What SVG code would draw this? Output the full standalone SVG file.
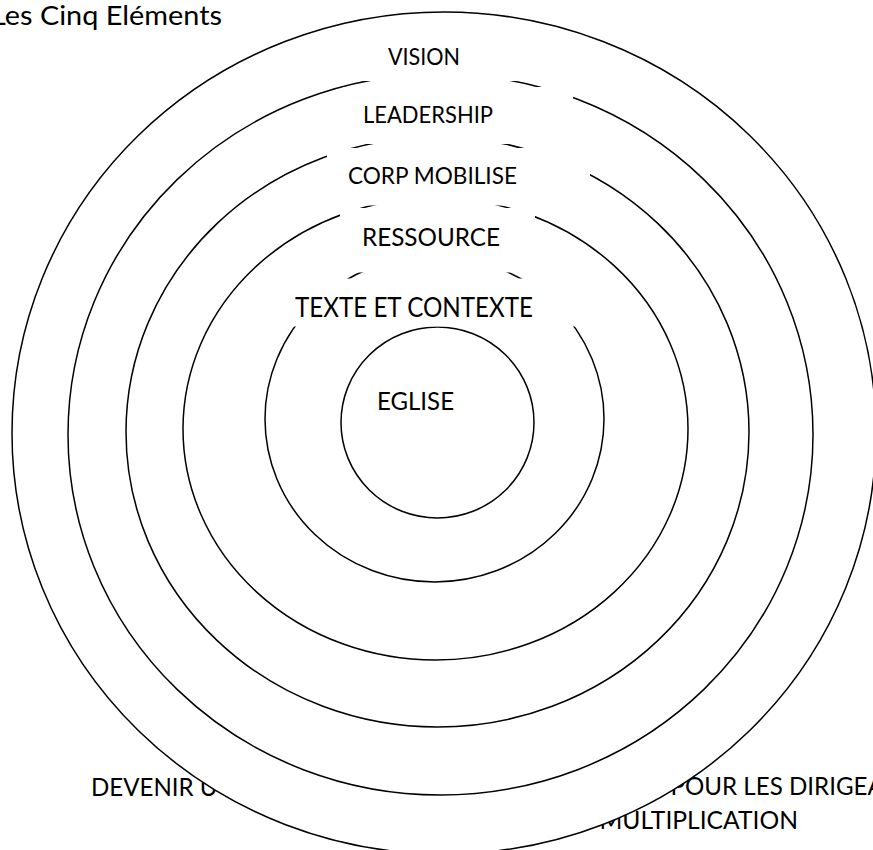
<svg xmlns="http://www.w3.org/2000/svg" width="873" height="850" viewBox="0 0 873 850">
<style>
.ring{fill:#fff;stroke:#000;stroke-width:1.5}
.box{fill:#fff;stroke:none}
.t{font-family:Lato,"Open Sans","Liberation Sans",sans-serif;fill:#000}
</style>
<rect width="873" height="850" fill="#fff"/>
<g id="title">
<text class="t" x="-9" y="25" font-size="27.5" textLength="231" lengthAdjust="spacingAndGlyphs">Les Cinq Eléments</text>
</g>
<g id="bottom-labels">
<text class="t" x="91" y="796" font-size="25.3" textLength="126.6" lengthAdjust="spacingAndGlyphs">DEVENIR U</text>
<text class="t" x="670.5" y="795" font-size="25.4" textLength="259" lengthAdjust="spacingAndGlyphs">POUR LES DIRIGEANTS</text>
<text class="t" x="599.5" y="829" font-size="25.4" textLength="198.5" lengthAdjust="spacingAndGlyphs">MULTIPLICATION</text>
</g>
<g id="rings">
<ellipse id="ring-vision" class="ring" cx="444" cy="433" rx="432" ry="421"/>
<ellipse id="ring-leadership" class="ring" cx="440.5" cy="434.5" rx="372.5" ry="360.5"/>
<ellipse id="ring-corp" class="ring" cx="437.5" cy="432" rx="311.5" ry="295"/>
<ellipse id="ring-ressource" class="ring" cx="435.5" cy="429" rx="252.5" ry="231"/>
<ellipse id="ring-texte" class="ring" cx="434.5" cy="419" rx="169.5" ry="163"/>
<ellipse id="ring-eglise" class="ring" cx="437.5" cy="422.5" rx="96.5" ry="95.5"/>
</g>
<g id="label-vision">
<rect class="box" x="345" y="32" width="210" height="49"/>
<text class="t" x="388" y="65" font-size="22.5" textLength="72" lengthAdjust="spacingAndGlyphs">VISION</text>
</g>
<g id="label-leadership">
<rect class="box" x="343" y="87" width="230" height="57"/>
<text class="t" x="363" y="123" font-size="23" textLength="130" lengthAdjust="spacingAndGlyphs">LEADERSHIP</text>
</g>
<g id="label-corp">
<rect class="box" x="327" y="148" width="263" height="57.5"/>
<text class="t" x="348" y="184" font-size="24" textLength="169" lengthAdjust="spacingAndGlyphs">CORP MOBILISE</text>
</g>
<g id="label-ressource">
<rect class="box" x="340" y="208" width="195" height="64.5"/>
<text class="t" x="362" y="246" font-size="25.5" textLength="138" lengthAdjust="spacingAndGlyphs">RESSOURCE</text>
</g>
<g id="label-texte">
<rect class="box" x="280" y="278.5" width="310" height="48"/>
<text class="t" x="295" y="317" font-size="26" textLength="238" lengthAdjust="spacingAndGlyphs">TEXTE ET CONTEXTE</text>
</g>
<g id="label-eglise">
<text class="t" x="377" y="410" font-size="25" textLength="77" lengthAdjust="spacingAndGlyphs">EGLISE</text>
</g>
</svg>
